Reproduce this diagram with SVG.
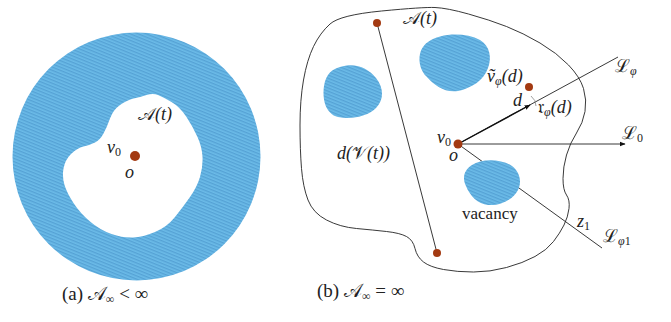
<svg xmlns="http://www.w3.org/2000/svg" width="671" height="322" viewBox="0 0 671 322">
<defs>
<pattern id="hatch" patternUnits="userSpaceOnUse" width="3" height="3" patternTransform="rotate(22)">
<rect width="3" height="3" fill="#6bbbe8"/>
<line x1="0" y1="0.75" x2="3" y2="0.75" stroke="#4a94cc" stroke-width="0.9"/>
</pattern>
<marker id="arr" viewBox="0 0 10 10" refX="9" refY="5" markerWidth="6" markerHeight="6" orient="auto" markerUnits="userSpaceOnUse">
<path d="M0,1 L10,5 L0,9 Z" fill="#111"/>
</marker>
</defs>
<style>
.m{font-family:"Liberation Serif","DejaVu Serif",serif;font-style:italic;font-size:18px;fill:#222}
.r{font-family:"Liberation Serif","DejaVu Serif",serif;font-size:17px;fill:#222}
.c{font-family:"Liberation Serif","DejaVu Serif",serif;font-size:19px;fill:#222}
.s{font-style:normal}
.sub{font-size:12px}
.ln{stroke:#222;stroke-width:0.9;fill:none}
.dot{fill:#a33a12}
.blob{fill:url(#hatch)}
</style>
<rect width="671" height="322" fill="#fff"/>

<g id="ring">
<path class="blob" fill-rule="evenodd" d="M 12.5,156.5 A 124,124 0 1 0 260.5,156.5 A 124,124 0 1 0 12.5,156.5 Z M 146.5,95 Q 153,93 158,95 Q 163,97 171.5,102 Q 180,107 186.5,117 Q 193,127 197.5,137 Q 202,147 202.5,157 Q 203,167 200,177 Q 197,187 190,197 Q 183,207 175,217 Q 167,227 155,232 Q 143,237 133,237.5 Q 123,238 111.5,234 Q 100,230 90,221.5 Q 80,213 73.5,203 Q 67,193 64.5,185 Q 62,177 63.5,168.5 Q 65,160 71,154 Q 77,148 83.5,146.5 Q 90,145 95,142.5 Q 100,140 103.5,133.5 Q 107,127 110,118.5 Q 113,110 120,105 Q 127,100 133.5,98.5 Q 140,97 146.5,95 Z"/>
</g>
<g id="left-origin">
<circle class="dot" cx="135" cy="156" r="5"/>
<text class="m" x="107" y="153">v<tspan class="sub s" dy="3">0</tspan></text>
<text class="m" x="125" y="178">o</text>
<text class="m" x="138" y="120"><tspan class="s">𝒜</tspan>(t)</text>
</g>

<g id="region">
<path class="ln" d="M 330,24 Q 340,15 381.5,11 Q 423,7 435,7.5 Q 447,8 468.5,14 Q 490,20 506.5,26.5 Q 523,33 540,43 Q 557,53 568.5,65 Q 580,77 583.5,88.5 Q 587,100 585,111.5 Q 583,123 576.5,133 Q 570,143 566.5,155 Q 563,167 563,178.5 Q 563,190 566.5,195 Q 570,200 569,208.5 Q 568,217 564,225 Q 560,233 553.5,241.5 Q 547,250 535,256.5 Q 523,263 506.5,267.5 Q 490,272 473.5,272 Q 457,272 443.5,269.5 Q 430,267 423.5,262 Q 417,257 415,248.5 Q 413,240 406.5,236.5 Q 400,233 386.5,231.5 Q 373,230 356.5,228.5 Q 340,227 326.5,220 Q 313,213 308,200 Q 303,187 301.5,168.5 Q 300,150 300,125 Q 300,100 303.5,80 Q 307,60 313.5,46.5 Q 320,33 330,24 Z"/>
<text class="m" x="403" y="24"><tspan class="s">𝒜</tspan>(t)</text>
</g>

<g id="connectors">
<line class="ln" x1="377" y1="23" x2="437" y2="253"/>
<line class="ln" x1="458" y1="144" x2="618" y2="57"/>
<line x1="458" y1="144" x2="530" y2="105" stroke="#111" stroke-width="1.4" marker-end="url(#arr)"/>
<line class="ln" x1="458" y1="144" x2="625" y2="144" marker-end="url(#arr)"/>
<line class="ln" x1="458" y1="144" x2="602" y2="248"/>
<path d="M 531,96 Q 536,100 536,106" stroke="#777" stroke-width="0.7" fill="none"/>
</g>

<g id="vacancy-left">
<path class="blob" d="M 340,67 C 355,62 368,68 376,78 C 384,88 384,100 376,108 C 368,116 352,120 338,117 C 326,114 322,100 324,86 C 326,74 332,69 340,67 Z"/>
</g>
<g id="vacancy-top">
<path class="blob" d="M 428,42 C 440,33 465,32 480,40 C 490,46 492,58 488,68 C 484,80 472,88 458,91 C 445,93 435,86 426,76 C 418,68 416,50 428,42 Z"/>
</g>
<g id="vacancy-bottom">
<path class="blob" d="M 472,165 C 482,158 502,159 512,166 C 520,172 522,182 518,190 C 513,200 500,206 488,205 C 478,204 470,196 466,186 C 462,178 464,170 472,165 Z"/>
<text class="r" x="462" y="219">vacancy</text>
</g>

<g id="points">
<circle class="dot" cx="377" cy="23" r="4"/>
<circle class="dot" cx="437" cy="253" r="4"/>
<circle class="dot" cx="458" cy="144" r="4.5"/>
<circle class="dot" cx="529" cy="87" r="4"/>
</g>

<g id="labels">
<text class="m" x="337" y="159">d(<tspan class="s">𝒱</tspan>(t))</text>
<text class="m" x="487" y="82">ṽ<tspan class="sub" dy="3">φ</tspan><tspan dy="-3">(d)</tspan></text>
<text class="m" x="513" y="106">d</text>
<text class="m" x="538" y="113"><tspan class="s">𝔯</tspan><tspan class="sub" dy="3">φ</tspan><tspan dy="-3">(d)</tspan></text>
<text class="m" x="615" y="72"><tspan class="s">ℒ</tspan><tspan class="sub" dy="3">φ</tspan></text>
<text class="m" x="622" y="139"><tspan class="s">ℒ</tspan><tspan class="sub s" dy="3">0</tspan></text>
<text class="m" x="603" y="242"><tspan class="s">ℒ</tspan><tspan class="sub" dy="3">φ</tspan><tspan class="sub s">1</tspan></text>
<text class="m" x="437" y="143">v<tspan class="sub s" dy="3">0</tspan></text>
<text class="m" x="449" y="161">o</text>
<text class="m" x="577" y="227">z<tspan class="sub s" dy="3">1</tspan></text>
</g>

<g id="captions">
<text class="c" x="62" y="300">(a) 𝒜<tspan class="sub" dy="3">∞</tspan><tspan dy="-3"> &lt; ∞</tspan></text>
<text class="c" x="317" y="297">(b) 𝒜<tspan class="sub" dy="3">∞</tspan><tspan dy="-3"> = ∞</tspan></text>
</g>
</svg>
